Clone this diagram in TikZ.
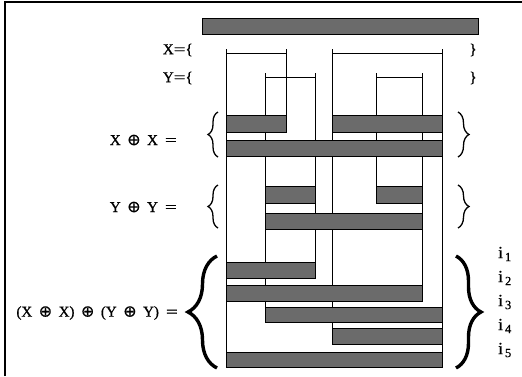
\documentclass[tikz,border=0pt]{standalone}
\usepackage{fontspec}
\setmainfont{Liberation Serif}
\newfontfamily\semib[FakeBold=0.8]{Liberation Serif}
\newfontfamily\symf[FakeBold=0.6]{DejaVu Sans}
\usetikzlibrary{decorations.pathreplacing}
\newcommand{\myop}{\hspace{6.5pt}{\symf\fontsize{16}{17}\selectfont ⊕}\hspace{6.5pt}}
\newcommand{\myeq}{\hspace{7pt}\scalebox{1.4}[1]{=}}
\begin{document}
\begin{tikzpicture}[x=1pt,y=-1pt,
  bar/.style={draw=black, line width=0.8pt, fill=black!58},
  vline/.style={line width=0.8pt},
  lbl/.style={inner sep=0pt, font=\semib\fontsize{15}{17}\selectfont},
  ilbl/.style={inner sep=0pt, anchor=west, font=\semib\fontsize{17}{19}\selectfont},
  brc/.style={decorate, decoration={brace, amplitude=#1}, line width=1.3pt},
  bigbrc/.style={decorate, decoration={brace, amplitude=#1}, line width=3.4pt}]
\useasboundingbox (0,0) rectangle (522,376);
% frame
\draw[line width=1.5pt] (5,376) -- (5,2) -- (522,2);
% top bar
\draw[bar] (202,18) rectangle (478,34);
% labels X, Y
\node[lbl, anchor=east] (xl) at (193,50) {X\scalebox{1.4}[1]{=}\{};
\node[lbl, anchor=east] (yl) at (193,78) {Y\scalebox{1.4}[1]{=}\{};
\node[lbl] (xr) at (473,50) {\}};
\node[lbl] (yr) at (473,78) {\}};
% interval lines
\draw[vline] (226,53) -- (286,53);
\draw[vline] (332,53) -- (442,53);
\draw[vline] (265,77) -- (315,77);
\draw[vline] (376,77) -- (422,77);
% vertical lines
\draw[vline] (226,49) -- (226,352);
\draw[vline] (286,49) -- (286,115);
\draw[vline] (332,49) -- (332,328);
\draw[vline] (442,49) -- (442,352);
\draw[vline] (265,73) -- (265,307);
\draw[vline] (315,73) -- (315,262);
\draw[vline] (376,73) -- (376,186);
\draw[vline] (422,73) -- (422,285);
% X+X
\draw[bar] (226,115) rectangle (286,132);
\draw[bar] (332,115) rectangle (442,132);
\draw[bar] (226,140) rectangle (442,156);
% Y+Y
\draw[bar] (265,186) rectangle (315,203);
\draw[bar] (376,186) rectangle (422,203);
\draw[bar] (265,213) rectangle (422,229);
% final
\draw[bar] (226,262) rectangle (315,278);
\draw[bar] (226,285) rectangle (422,301);
\draw[bar] (265,307) rectangle (442,322);
\draw[bar] (332,328) rectangle (442,344);
\draw[bar] (226,352) rectangle (442,367);
% labels
\node[lbl, anchor=east] (xx) at (177,140) {X\myop X\myeq};
\node[lbl, anchor=east] (yy) at (177,207) {Y\myop Y\myeq};
\node[lbl, anchor=east] (fin) at (178,313) {(X\myop X)\myop(Y\myop Y)\myeq};
% braces
\draw[brc=10pt] (218,157) -- (218,112);
\draw[brc=11pt] (458,112) -- (458,157);
\draw[brc=10pt] (218,228) -- (218,185);
\draw[brc=11pt] (458,185) -- (458,228);
\draw[bigbrc=29pt] (217,368) -- (217,256);
\draw[bigbrc=25pt] (456,256) -- (456,368);
% i labels
\node[ilbl] (i1) at (498,254) {i\raisebox{-3pt}{\fontsize{12.5}{13}\selectfont\,1}};
\node[ilbl] (i2) at (498,278) {i\raisebox{-3pt}{\fontsize{12.5}{13}\selectfont\,2}};
\node[ilbl] (i3) at (498,302) {i\raisebox{-3pt}{\fontsize{12.5}{13}\selectfont\,3}};
\node[ilbl] (i4) at (498,326) {i\raisebox{-3pt}{\fontsize{12.5}{13}\selectfont\,4}};
\node[ilbl] (i5) at (498,350) {i\raisebox{-3pt}{\fontsize{12.5}{13}\selectfont\,5}};
\end{tikzpicture}
\end{document}
